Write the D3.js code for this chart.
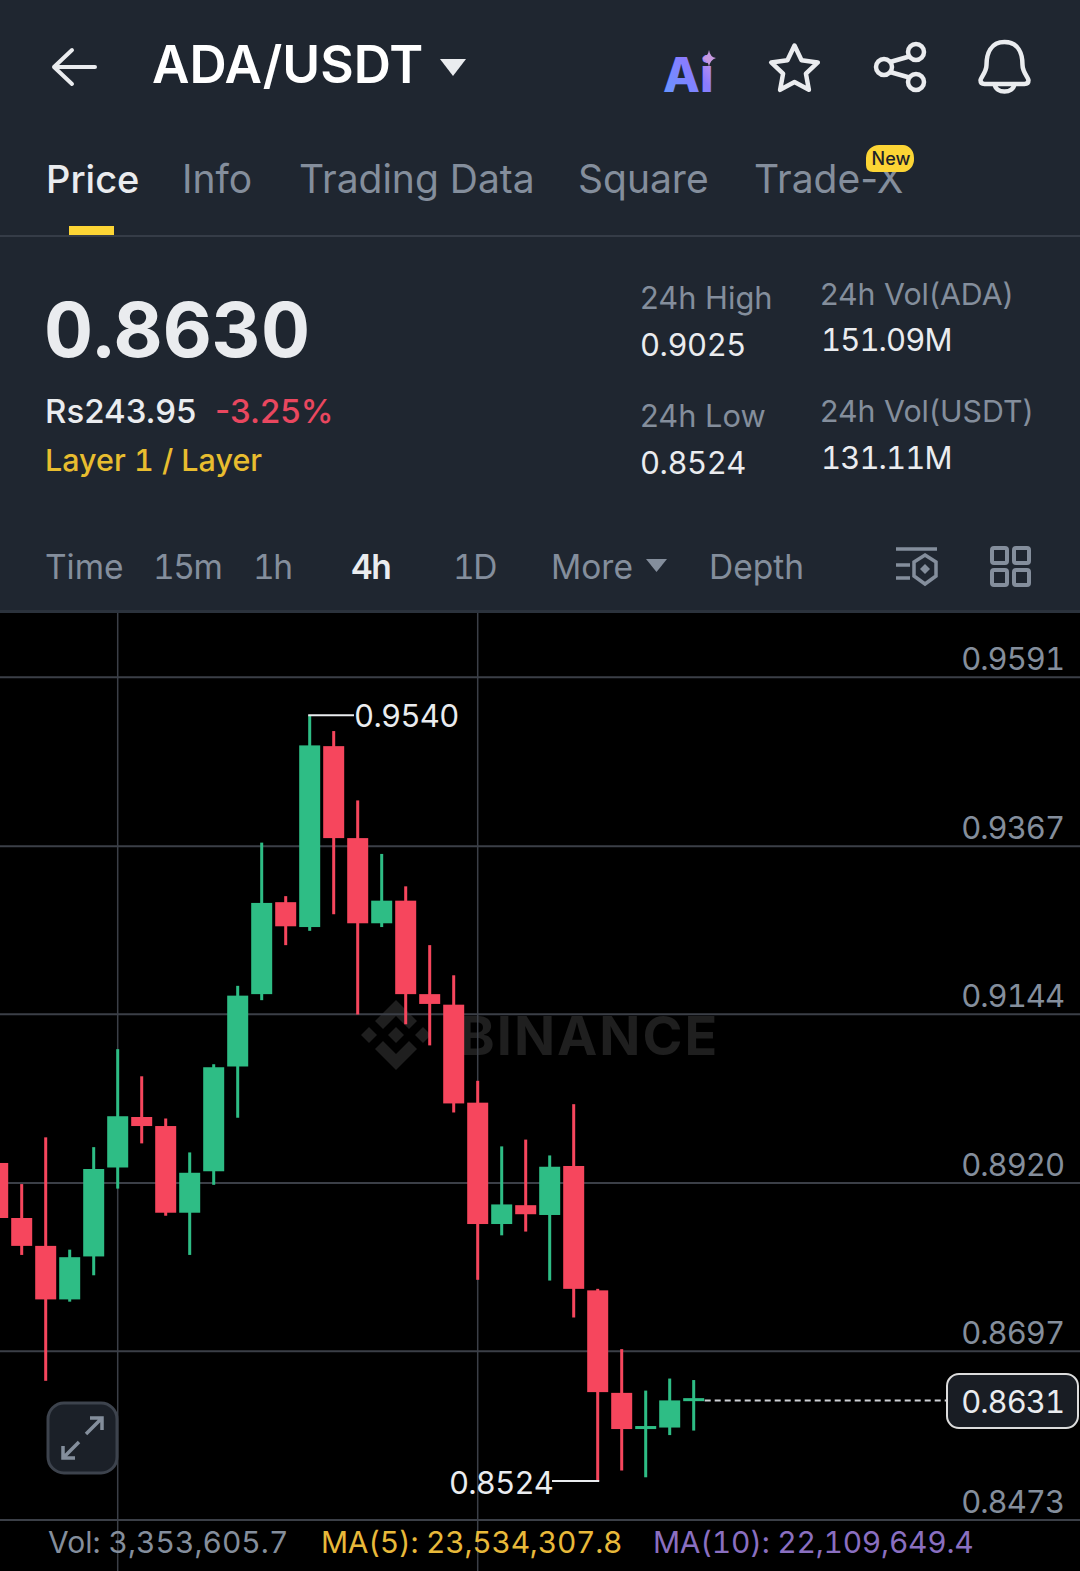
<!DOCTYPE html>
<html>
<head>
<meta charset="utf-8">
<script src="https://cdn.jsdelivr.net/npm/d3@7"></script>
<style>
  html, body { margin: 0; padding: 0; background: #000; }
  svg { display: block; }
  text { font-family: Inter, "Open Sans", sans-serif; }
  .y-axis .domain { display: none; }
  .y-axis line { stroke: #3b3f47; stroke-width: 2; }
  .y-axis text { fill: #848e9c; font-size: 31px; font-feature-settings: "tnum"; letter-spacing: -1px; }
</style>
</head>
<body>
<div id="chart"></div>
<script>
// candles, oldest first
var opens  = [0.8946,0.8873,0.8836,0.8765,0.8822,0.8940,0.9007,0.8995,0.8880,0.8935,0.9074,0.9170,0.9292,0.9259,0.9499,0.9377,0.9264,0.9294,0.9170,0.9156,0.9026,0.8865,0.8890,0.8877,0.8942,0.8777,0.8641,0.8593,0.8595,0.8630];
var highs  = [0.8946,0.8918,0.8980,0.8831,0.8967,0.9097,0.9061,0.9005,0.8960,0.9077,0.9181,0.9371,0.9300,0.9540,0.9519,0.9427,0.9356,0.9313,0.9235,0.9195,0.9055,0.8968,0.8977,0.8956,0.9024,0.8779,0.8699,0.8644,0.8660,0.8658];
var lows   = [0.8873,0.8824,0.8657,0.8762,0.8797,0.8912,0.8972,0.8876,0.8824,0.8917,0.9006,0.9162,0.9235,0.9254,0.9276,0.9143,0.9259,0.9130,0.9102,0.9013,0.8791,0.8850,0.8855,0.8790,0.8741,0.8524,0.8538,0.8529,0.8585,0.8591];
var closes = [0.8873,0.8836,0.8765,0.8821,0.8938,0.9008,0.8995,0.8880,0.8933,0.9073,0.9168,0.9291,0.9260,0.9500,0.9377,0.9264,0.9294,0.9170,0.9157,0.9025,0.8865,0.8891,0.8878,0.8941,0.8779,0.8642,0.8593,0.8597,0.8631,0.8634];

var yTicks = [0.9591, 0.9367, 0.9144, 0.8920, 0.8697, 0.8473];
var verticalGridCandles = [5, 20];
var lastPrice = 0.8631;
var highCandle = 13;
var lowCandle = 25;

var tabs = ["Price", "Info", "Trading Data", "Square", "Trade-X"];
var tabX = [46, 182, 299, 578, 754];
var intervals = ["Time", "15m", "1h", "4h", "1D", "More", "Depth"];
var intervalX = [45, 153, 253, 351, 453, 551, 709];

var svgWidth = 1080;
var svgHeight = 1571;
var panelColor = "#1f2630";
var up = "#2ebd85";
var down = "#f6465d";

var svg = d3.select("#chart")
  .append("svg")
  .attr("width", svgWidth)
  .attr("height", svgHeight);

function label(txt, x, y, size, fill, weight, anchor) {
  return svg.append("text")
    .attr("x", x)
    .attr("y", y)
    .attr("font-size", size)
    .attr("fill", fill)
    .attr("font-weight", weight || 400)
    .attr("text-anchor", anchor || "start")
    .text(txt);
}

// same but with fixed width digits, the app's numbers have a wide "1"
function num(sel, spacing) {
  return sel.style("font-feature-settings", '"tnum"').attr("letter-spacing", spacing || 0);
}

// backgrounds
svg.append("rect").attr("width", svgWidth).attr("height", svgHeight).attr("fill", "#000");
svg.append("rect").attr("width", svgWidth).attr("height", 612).attr("fill", panelColor);
svg.append("rect").attr("y", 235).attr("width", svgWidth).attr("height", 2).attr("fill", "#353c47");
svg.append("rect").attr("y", 610).attr("width", svgWidth).attr("height", 3).attr("fill", "#2b323c");

// header
svg.append("path")
  .attr("d", "M95,67H54M72,50L54,67L72,84")
  .attr("fill", "none").attr("stroke", "#eaecef").attr("stroke-width", 4)
  .attr("stroke-linecap", "round").attr("stroke-linejoin", "round");
label("ADA/USDT", 152, 83, 51.5, "#ffffff", 600);
svg.append("path").attr("d", "M440,59H466L453,76Z").attr("fill", "#eaecef");

var defs = svg.append("defs");
var aiGrad = defs.append("linearGradient").attr("id", "aiGrad")
  .attr("x1", "0%").attr("x2", "100%").attr("y1", "100%").attr("y2", "0%");
aiGrad.append("stop").attr("offset", "0%").attr("stop-color", "#5f9bff");
aiGrad.append("stop").attr("offset", "60%").attr("stop-color", "#8a7bff");
aiGrad.append("stop").attr("offset", "100%").attr("stop-color", "#e0a0e0");
label("Ai", 663, 92, 48, "url(#aiGrad)", 800);
svg.append("path")
  .attr("d", "M709,50Q710,57 716,58Q710,60 709,67Q708,60 702,58Q708,57 709,50Z")
  .attr("fill", "#c79ae0");

var starPts = d3.range(10).map(function(i) {
  var r = i % 2 ? 12 : 24.5;
  var a = i * Math.PI / 5;
  return [794.5 + r * Math.sin(a), 70 - r * Math.cos(a)];
});
svg.append("path")
  .attr("d", d3.line()(starPts) + "Z")
  .attr("fill", "none").attr("stroke", "#eaecef").attr("stroke-width", 4.5).attr("stroke-linejoin", "round");

var share = svg.append("g").attr("fill", "none").attr("stroke", "#eaecef").attr("stroke-width", 4.5);
share.append("path").attr("d", "M890,62L911,56M890,72L911,78");
share.selectAll("circle")
  .data([[916, 52], [884, 67], [916, 82]])
  .enter().append("circle")
  .attr("cx", d => d[0]).attr("cy", d => d[1]).attr("r", 8).attr("fill", panelColor);

svg.append("path")
  .attr("transform", "translate(1.5,0)")
  .attr("d", "M1003,42C1017,42 1021,54 1021,65C1021,72 1027,78 1027,80C1027,83 1025,84 1023,84H983C981,84 979,83 979,80C979,78 985,72 985,65C985,54 989,42 1003,42ZM993,84C994,94 1012,94 1013,84")
  .attr("fill", "none").attr("stroke", "#eaecef").attr("stroke-width", 4.5).attr("stroke-linejoin", "round");

// tabs
tabs.forEach(function(t, i) {
  label(t, tabX[i], 193, i === 0 ? 38 : 39, i === 0 ? "#eaecef" : "#848e9c", i === 0 ? 500 : 400);
});
svg.append("rect").attr("x", 69).attr("y", 226).attr("width", 45).attr("height", 9).attr("fill", "#fcd535");
svg.append("path")
  .attr("d", "M879,145H903A11,13 0 0 1 914,158A11,13 0 0 1 903,172H873Q866,172 866,165V158A13,13 0 0 1 879,145Z")
  .attr("fill", "#fcd535");
label("New", 891, 165, 18, "#1e2329", 500, "middle");

// price block
num(label("0.8630", 44, 357, 76, "#eaecef", 700));
label("Rs243.95", 45, 423, 33, "#eaecef", 500);
label("-3.25%", 215, 423, 33, "#e9475f", 500);
num(label("Layer 1 / Layer", 45, 471, 30.5, "#e8bd2f", 500));

label("24h High", 640, 309, 30.8, "#848e9c");
num(label("0.9025", 640, 356, 31, "#eaecef"), -0.5);
label("24h Low", 640, 427, 30.8, "#848e9c");
num(label("0.8524", 640, 474, 31, "#eaecef"), -0.5);
label("24h Vol(ADA)", 820, 305, 30.3, "#848e9c");
num(label("151.09M", 821, 351, 31, "#eaecef"), -0.9);
label("24h Vol(USDT)", 820, 422, 30.3, "#848e9c");
num(label("131.11M", 821, 469, 31, "#eaecef"), -0.9);

// interval row
intervals.forEach(function(t, i) {
  var active = t === "4h";
  var node = label(t, intervalX[i], 579, 33.5, active ? "#eaecef" : "#848e9c", active ? 600 : 400);
  if (/\d/.test(t)) num(node, -1.5);
});
svg.append("path").attr("d", "M646,559H667L656.5,572Z").attr("fill", "#848e9c");

var iconA = svg.append("g").attr("fill", "none").attr("stroke", "#848e9c").attr("stroke-width", 3.5);
iconA.append("path").attr("d", "M896,549H937M896,565H910M896,578H910");
iconA.append("path").attr("d", "M925,555L936,562V576L925,584L914,576V562Z");
iconA.append("path").attr("d", "M925,564L930,569L925,574L920,569Z").attr("fill", "#848e9c").attr("stroke", "none");

var iconB = svg.append("g").attr("fill", "none").attr("stroke", "#848e9c").attr("stroke-width", 4);
[[992, 548], [1014, 548], [992, 570], [1014, 570]].forEach(function(p) {
  iconB.append("rect").attr("x", p[0]).attr("y", p[1]).attr("width", 15).attr("height", 15).attr("rx", 2);
});

// scales
var x = d3.scaleBand()
  .domain(d3.range(opens.length))
  .range([-14.3, 705.7])
  .paddingInner(0.125)
  .paddingOuter(0.0625);

var y = d3.scaleLinear()
  .domain([0.8473, 0.9591])
  .range([1519.5, 676.8]);

var xMid = function(i) { return x(i) + x.bandwidth() / 2; };

// watermark
var mark = svg.append("g").attr("fill", "#1f1f1f");
mark.append("path")
  .attr("transform", "translate(396,1035)")
  .attr("d", "M0,-35L21,-14L13,-6L0,-19L-13,-6L-21,-14ZM0,35L21,14L13,6L0,19L-13,6L-21,14ZM0,-8L8,0L0,8L-8,0ZM-27,-8L-19,0L-27,8L-35,0ZM27,-8L35,0L27,8L19,0Z");
mark.append("text")
  .attr("x", 459).attr("y", 1055)
  .attr("font-size", 54).attr("font-weight", 700).attr("letter-spacing", 2)
  .text("BINANCE");

// grid and price axis
svg.selectAll(".v-grid")
  .data(verticalGridCandles)
  .enter().append("line")
  .attr("class", "v-grid")
  .attr("x1", d => xMid(d)).attr("x2", d => xMid(d))
  .attr("y1", 613).attr("y2", svgHeight)
  .attr("stroke", "#3b3f47").attr("stroke-width", 1.5);

var yAxis = d3.axisRight(y)
  .tickValues(yTicks)
  .tickSize(-svgWidth)
  .tickFormat(d3.format(".4f"));

svg.append("g")
  .attr("class", "y-axis")
  .attr("transform", `translate(${svgWidth},0)`)
  .call(yAxis)
  .selectAll("text")
  .attr("x", -16)
  .attr("dy", "-0.22em")
  .attr("text-anchor", "end");

// candles
var candles = svg.append("g")
  .selectAll("g")
  .data(opens.map((o, i) => i))
  .enter().append("g")
  .attr("fill", i => closes[i] >= opens[i] ? up : down);

candles.append("rect")
  .attr("x", i => xMid(i) - 1.5)
  .attr("width", 3)
  .attr("y", i => y(highs[i]))
  .attr("height", i => y(lows[i]) - y(highs[i]));

candles.append("rect")
  .attr("x", i => x(i))
  .attr("width", x.bandwidth())
  .attr("y", i => y(Math.max(opens[i], closes[i])))
  .attr("height", i => Math.max(2.5, y(Math.min(opens[i], closes[i])) - y(Math.max(opens[i], closes[i]))));

// high / low callouts
svg.append("line")
  .attr("x1", xMid(highCandle) - 1.5).attr("x2", 354)
  .attr("y1", y(highs[highCandle])).attr("y2", y(highs[highCandle]))
  .attr("stroke", "#eaecef").attr("stroke-width", 2);
num(label(highs[highCandle].toFixed(4), 354, 727, 31, "#eaecef"), -0.7);

svg.append("line")
  .attr("x1", 552).attr("x2", xMid(lowCandle) + 1.5)
  .attr("y1", y(lows[lowCandle])).attr("y2", y(lows[lowCandle]))
  .attr("stroke", "#eaecef").attr("stroke-width", 2);
num(label(lows[lowCandle].toFixed(4), 449, 1494, 31, "#eaecef"), -0.8);

// last price line and tag
svg.append("line")
  .attr("x1", xMid(opens.length - 1) + 11).attr("x2", 947)
  .attr("y1", y(lastPrice)).attr("y2", y(lastPrice))
  .attr("stroke", "#cfd2d6").attr("stroke-width", 2).attr("stroke-dasharray", "6,4");
svg.append("rect")
  .attr("x", 947).attr("y", 1374).attr("width", 131).attr("height", 54).attr("rx", 12)
  .attr("fill", "#191d24").attr("stroke", "#dcdcdc").attr("stroke-width", 2);
num(label(lastPrice.toFixed(4), 1064, 1413, 31, "#eaecef", 400, "end"), -1);

// expand button
svg.append("rect")
  .attr("x", 48).attr("y", 1403).attr("width", 69).attr("height", 70).attr("rx", 16)
  .attr("fill", "#1b2028").attr("stroke", "#3d434d").attr("stroke-width", 3);
svg.append("path")
  .attr("d", "M86,1434L102,1418M90,1418H102V1430M79,1442L63,1458M63,1446V1458H75")
  .attr("fill", "none").attr("stroke", "#848e9c").attr("stroke-width", 3.5);

// volume row
num(label("Vol: 3,353,605.7", 48, 1553, 30, "#848e9c"));
num(label("MA(5): 23,534,307.8", 321, 1553, 30, "#e8b93a"), -0.25);
num(label("MA(10): 22,109,649.4", 653, 1553, 30, "#8a6fc0"), -0.25);
</script>
</body>
</html>
